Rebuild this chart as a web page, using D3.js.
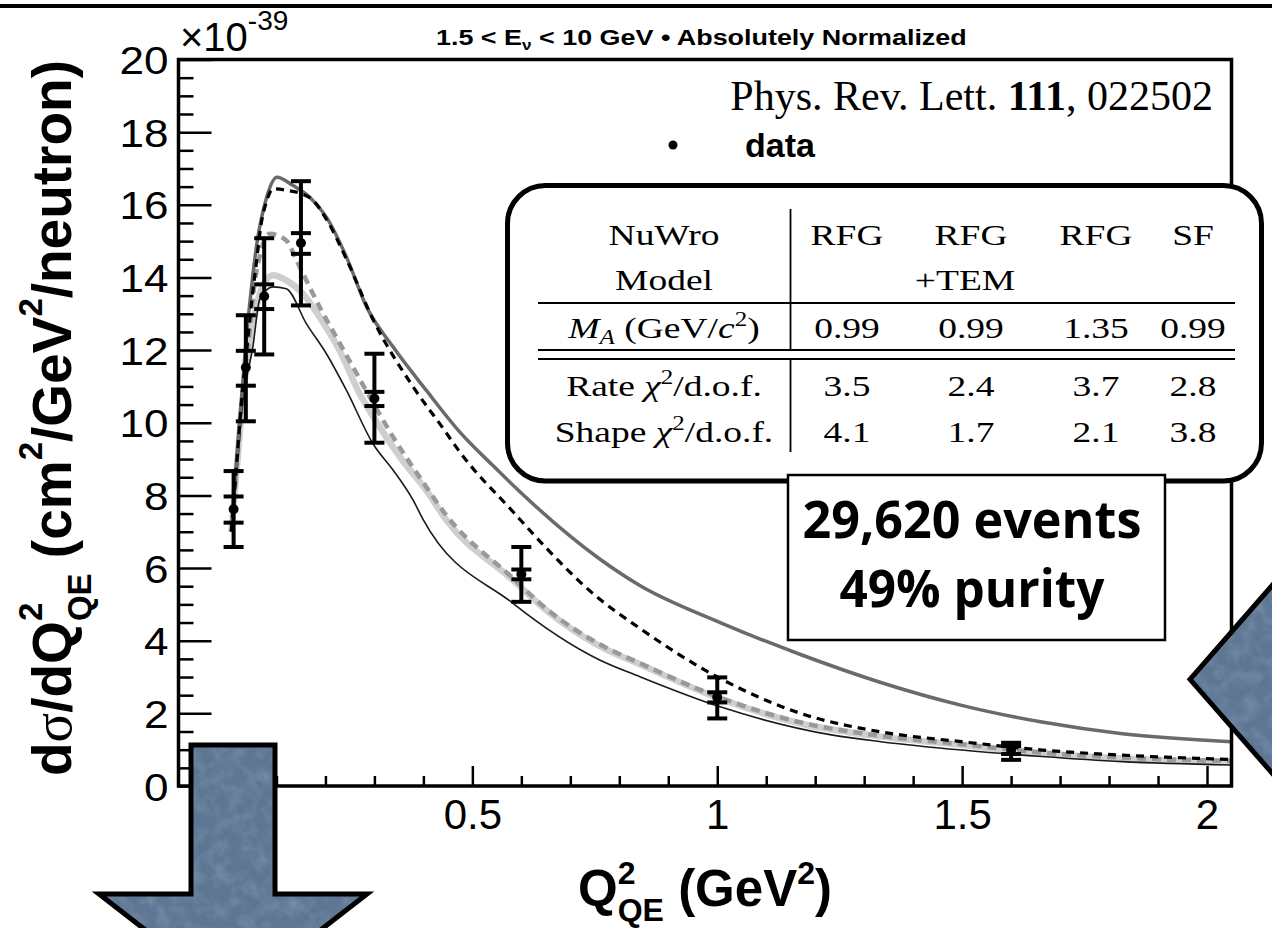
<!DOCTYPE html>
<html>
<head>
<meta charset="utf-8">
<script src="https://cdn.jsdelivr.net/npm/d3@7"></script>
<style>
  html, body { margin: 0; padding: 0; background: #fff; }
  svg { display: block; }
</style>
</head>
<body>
<svg id="chart" width="1272" height="928"></svg>
<script>
// ---- measured cross section (x10^-39 cm^2/GeV^2/neutron) ----
const binCenters = [0.0125, 0.0375, 0.075, 0.15, 0.3, 0.6, 1.0, 1.6];
const dataValues = [7.62, 11.52, 13.48, 14.95, 10.67, 5.83, 2.44, 0.99];
const statLow    = [7.25, 11.02, 13.13, 14.65, 10.46, 5.69, 2.30, 0.88];
const statHigh   = [7.97, 11.98, 13.81, 15.22, 10.85, 5.96, 2.58, 1.10];
const totalLow   = [6.58, 10.04, 11.88, 13.23, 9.45, 5.07, 1.86, 0.72];
const totalHigh  = [8.67, 12.96, 15.08, 16.65, 11.90, 6.58, 2.99, 1.19];

// ---- model predictions, [Q2, value] ----
const modelDarkSolid = [[0.008,7.0],[0.02,9.2],[0.03,10.9],[0.037,12.1],[0.048,13.6],[0.059,14.84],[0.08,16.21],[0.101,16.76],[0.134,16.53],[0.168,16.21],[0.202,15.66],[0.243,14.56],[0.284,13.19],[0.338,12.09],[0.406,10.89],[0.474,9.75],[0.542,8.82],[0.597,8.1],[0.76,6.25],[0.842,5.52],[1.006,4.5],[1.17,3.62],[1.334,2.85],[1.499,2.22],[1.663,1.76],[1.827,1.44],[2.05,1.22]];
const modelBlackDashed = [[0.008,7.0],[0.02,9.1],[0.03,10.8],[0.04,12.1],[0.05,13.4],[0.059,14.4],[0.068,15.4],[0.08,16.1],[0.093,16.44],[0.12,16.4],[0.168,16.2],[0.202,15.6],[0.243,14.5],[0.298,12.82],[0.379,10.99],[0.44,9.85],[0.474,9.2],[0.583,7.55],[0.651,6.55],[0.746,5.3],[0.842,4.34],[1.006,2.96],[1.17,2.0],[1.334,1.49],[1.499,1.22],[1.663,0.99],[1.827,0.85],[2.05,0.73]];
const modelGreyDashed = [[0.008,7.0],[0.02,9.0],[0.03,10.7],[0.042,12.1],[0.055,13.8],[0.066,14.6],[0.086,15.2],[0.12,15.02],[0.141,14.47],[0.161,13.92],[0.188,13.19],[0.222,12.36],[0.256,11.54],[0.298,10.53],[0.338,9.61],[0.392,8.51],[0.447,7.45],[0.583,5.72],[0.651,4.88],[0.76,3.9],[0.842,3.38],[1.006,2.43],[1.17,1.75],[1.334,1.38],[1.499,1.15],[1.663,0.92],[1.827,0.78],[2.05,0.69]];
const modelLightSolid = [[0.008,7.0],[0.02,8.9],[0.03,10.5],[0.045,12.1],[0.066,13.55],[0.093,14.06],[0.12,13.92],[0.154,13.55],[0.188,12.91],[0.229,11.99],[0.27,10.80],[0.298,10.16],[0.352,9.06],[0.406,8.14],[0.447,7.32],[0.583,5.67],[0.651,4.84],[0.76,3.85],[0.842,3.35],[1.006,2.4],[1.17,1.72],[1.334,1.36],[1.499,1.13],[1.663,0.90],[1.827,0.76],[2.05,0.67]];
const modelThinSolid = [[0.008,7.0],[0.02,8.8],[0.03,10.4],[0.052,12.1],[0.066,13.4],[0.093,13.74],[0.12,13.69],[0.161,12.73],[0.202,11.90],[0.243,10.89],[0.298,9.4],[0.338,8.7],[0.379,7.87],[0.399,7.35],[0.583,5.03],[0.76,3.47],[0.842,3.01],[1.006,2.18],[1.236,1.40],[1.334,1.22],[1.499,0.99],[1.663,0.81],[1.827,0.67],[2.05,0.58]];

// ---- axis ticks ----
const yMajorTicks = [0, 2, 4, 6, 8, 10, 12, 14, 16, 18, 20];
const xMajorTicks = [0, 0.5, 1, 1.5, 2];
const xTickLabels = ["0", "0.5", "1", "1.5", "2"];

// ---- fit summary table ----
const tableModels   = ["RFG", "RFG", "RFG", "SF"];
const tableModels2  = ["", "+TEM", "", ""];
const tableMA       = ["0.99", "0.99", "1.35", "0.99"];
const tableRateChi2 = ["3.5", "2.4", "3.7", "2.8"];
const tableShapeChi2= ["4.1", "1.7", "2.1", "3.8"];

const SANS = "'Liberation Sans', Arial, Helvetica, sans-serif";
const SERIF = "'Liberation Serif', 'Times New Roman', serif";

const svg = d3.select("#chart");
const frame = { left: 178.5, right: 1231.5, top: 59.5, bottom: 786 };

const x = d3.scaleLinear().domain([-0.1, 2.05]).range([frame.left, frame.right]);
const y = d3.scaleLinear().domain([0, 20]).range([frame.bottom, frame.top]);

// lays out a run of differently styled text pieces; "stack" pieces share the start of the previous one
function richText(parent, parts) {
  const g = parent.append("g");
  let cx = 0, prevStart = 0, prevEnd = 0;
  parts.forEach(p => {
    const start = p.stack ? prevStart : cx;
    const t = g.append("text")
      .attr("x", start).attr("y", p.dy || 0)
      .style("font-family", p.family || SANS)
      .style("font-size", p.size + "px")
      .style("font-weight", p.weight || "normal")
      .style("font-style", p.style || "normal")
      .attr("fill", "#000")
      .text(p.t);
    const w = t.node().getComputedTextLength();
    const end = start + w;
    if (p.stack) { prevEnd = Math.max(prevEnd, end); }
    else { prevEnd = end; }
    prevStart = start;
    cx = prevEnd;
  });
  return { g, width: cx };
}

const defs = svg.append("defs");
defs.append("clipPath").attr("id", "plotClip")
  .append("rect")
  .attr("x", frame.left).attr("y", frame.top)
  .attr("width", frame.right - frame.left).attr("height", frame.bottom - frame.top);

const grain = defs.append("filter").attr("id", "grain")
  .attr("x", 0).attr("y", 0).attr("width", 1).attr("height", 1);
grain.append("feTurbulence").attr("type", "fractalNoise").attr("baseFrequency", 0.07)
  .attr("numOctaves", 3).attr("seed", 7).attr("result", "noise");
grain.append("feColorMatrix").attr("in", "noise").attr("type", "matrix")
  .attr("values", "0 0 0 0 1  0 0 0 0 1  0 0 0 0 1  0.9 0 0 0 -0.35").attr("result", "speck");
grain.append("feComposite").attr("in", "speck").attr("in2", "SourceGraphic").attr("operator", "in");

// ---- axes ----
const yMinor = d3.range(1, 40).filter(i => i % 4 !== 0).map(i => i * 0.5);
svg.append("g").attr("transform", `translate(${frame.left},0)`)
  .call(d3.axisLeft(y).tickValues(yMinor).tickSize(-15).tickFormat(""))
  .call(g => g.select(".domain").remove())
  .call(g => g.selectAll("line").attr("stroke", "#000").attr("stroke-width", 2.5));

svg.append("g").attr("transform", `translate(${frame.left},0)`)
  .call(d3.axisLeft(y).tickValues(yMajorTicks).tickSize(-33).tickPadding(10).tickFormat(d3.format("d")))
  .call(g => g.select(".domain").remove())
  .call(g => g.selectAll("line").attr("stroke", "#000").attr("stroke-width", 2.5))
  .call(g => g.selectAll("text").attr("fill", "#000")
    .style("font-family", SANS).style("font-size", "39px").attr("dy", "0.36em")
    .attr("x", 0).attr("transform", "translate(-10,0) scale(1.13,1)"));

const xMinor = d3.range(1, 21).filter(i => i % 5 !== 0).map(i => i / 10);
svg.append("g").attr("transform", `translate(0,${frame.bottom})`)
  .call(d3.axisBottom(x).tickValues(xMinor).tickSize(-10).tickFormat(""))
  .call(g => g.select(".domain").remove())
  .call(g => g.selectAll("line").attr("stroke", "#000").attr("stroke-width", 2.5));

svg.append("g").attr("transform", `translate(0,${frame.bottom})`)
  .call(d3.axisBottom(x).tickValues(xMajorTicks).tickSize(-20).tickPadding(13)
    .tickFormat((d, i) => xTickLabels[i]))
  .call(g => g.select(".domain").remove())
  .call(g => g.selectAll("line").attr("stroke", "#000").attr("stroke-width", 2.5))
  .call(g => g.selectAll("text").attr("fill", "#000")
    .style("font-family", SANS).style("font-size", "42px"));

// ---- model curves ----
const line = d3.line().x(d => x(d[0])).y(d => y(d[1])).curve(d3.curveMonotoneX);
const curves = svg.append("g").attr("clip-path", "url(#plotClip)").attr("fill", "none");
const curveStyles = [
  { data: modelLightSolid,  stroke: "#cfcfcf", width: 6.5, dash: null },
  { data: modelGreyDashed,  stroke: "#999999", width: 4.5, dash: "9,6" },
  { data: modelThinSolid,   stroke: "#1a1a1a", width: 1.6, dash: null },
  { data: modelDarkSolid,   stroke: "#6a6a6a", width: 3.5, dash: null },
  { data: modelBlackDashed, stroke: "#000",    width: 3.2, dash: "8,6" }
];
curveStyles.forEach(c => {
  curves.append("path").attr("d", line(c.data))
    .attr("stroke", c.stroke).attr("stroke-width", c.width)
    .attr("stroke-dasharray", c.dash).attr("stroke-linejoin", "round");
});

// ---- frame ----
svg.append("rect")
  .attr("x", frame.left).attr("y", frame.top)
  .attr("width", frame.right - frame.left).attr("height", frame.bottom - frame.top)
  .attr("fill", "none").attr("stroke", "#000").attr("stroke-width", 3.5);

// ---- data points with inner (statistical) and outer (total) error bars ----
const pts = svg.append("g");
binCenters.forEach((q, i) => {
  const cx = x(q);
  pts.append("line").attr("x1", cx).attr("x2", cx)
    .attr("y1", y(totalLow[i])).attr("y2", y(totalHigh[i]))
    .attr("stroke", "#000").attr("stroke-width", 4);
  [totalLow[i], totalHigh[i], statLow[i], statHigh[i]].forEach(v => {
    pts.append("line").attr("x1", cx - 10).attr("x2", cx + 10)
      .attr("y1", y(v)).attr("y2", y(v))
      .attr("stroke", "#000").attr("stroke-width", 4);
  });
  pts.append("circle").attr("cx", cx).attr("cy", y(dataValues[i])).attr("r", 5).attr("fill", "#000");
});

// ---- axis exponent ----
const expo = richText(svg, [
  { t: "\u00d710", size: 40 },
  { t: "-39", size: 28, dy: -21 }
]);
expo.g.attr("transform", "translate(180,51)");

// ---- titles ----
const title = richText(svg, [
  { t: "1.5 < E", size: 22, weight: "bold" },
  { t: "\u03bd", size: 14, weight: "bold", dy: 5 },
  { t: " < 10 GeV \u2022 Absolutely Normalized", size: 22, weight: "bold" }
]);
title.g.selectAll("text").style("white-space", "pre");
{
  const w = title.g.node().getBBox().width;
  title.g.attr("transform", `translate(436,45) scale(${531 / w},1)`);
}

const xTitle = richText(svg, [
  { t: "Q", size: 51, weight: "bold" },
  { t: "2", size: 32, weight: "bold", dy: -22 },
  { t: "QE", size: 32, weight: "bold", dy: 15, stack: true },
  { t: "\u00a0(GeV", size: 51, weight: "bold" },
  { t: "2", size: 32, weight: "bold", dy: -22 },
  { t: ")", size: 51, weight: "bold" }
]);
xTitle.g.attr("transform", `translate(${(frame.left + frame.right) / 2 - xTitle.width / 2},906)`);

const yTitle = richText(svg, [
  { t: "d", size: 55, weight: "bold" },
  { t: "\u03c3", size: 55, family: SERIF },
  { t: "/dQ", size: 55, weight: "bold" },
  { t: "2", size: 33, weight: "bold", dy: -29 },
  { t: "QE", size: 33, weight: "bold", dy: 20, stack: true },
  { t: "\u00a0(cm", size: 55, weight: "bold" },
  { t: "2", size: 33, weight: "bold", dy: -29 },
  { t: "/GeV", size: 55, weight: "bold" },
  { t: "2", size: 33, weight: "bold", dy: -29 },
  { t: "/neutron)", size: 55, weight: "bold" }
]);
yTitle.g.attr("transform", `translate(71,418) rotate(-90) translate(${-yTitle.width / 2},0)`);

// ---- reference and legend ----
const ref = richText(svg, [
  { t: "Phys.\u00a0Rev.\u00a0Lett.\u00a0", size: 42, family: SERIF },
  { t: "111", size: 42, family: SERIF, weight: "bold" },
  { t: ",\u00a0022502", size: 42, family: SERIF }
]);
ref.g.attr("transform", `translate(${1213 - ref.width},110)`);

svg.append("circle").attr("cx", 673).attr("cy", 145).attr("r", 4.5).attr("fill", "#000");
svg.append("text").attr("x", 745).attr("y", 157)
  .style("font-family", SANS).style("font-size", "34px").style("font-weight", "bold")
  .text("data");

// ---- fit summary table ----
const tbl = svg.append("g");
tbl.append("rect").attr("x", 507.5).attr("y", 185.5).attr("width", 754).attr("height", 295.5)
  .attr("rx", 38).attr("fill", "#fff").attr("stroke", "#000").attr("stroke-width", 5);

const colX = [847, 971, 1096, 1193];
const labelX = 664;
const rowY = [245, 290, 338, 396, 442];
const TS = 30;
const TW = 1.25; // table type is set wide

function cellText(xc, yb, txt) {
  tbl.append("text").attr("x", 0).attr("y", 0).attr("text-anchor", "middle")
    .attr("transform", `translate(${xc},${yb}) scale(${TW},1)`)
    .style("font-family", SERIF).style("font-size", TS + "px").text(txt);
}
function centeredRich(xc, yb, parts) {
  const r = richText(tbl, parts);
  r.g.attr("transform", `translate(${xc - r.width * TW / 2},${yb}) scale(${TW},1)`);
}

cellText(labelX, rowY[0], "NuWro");
cellText(labelX, rowY[1], "Model");
tableModels.forEach((m, i) => cellText(colX[i], rowY[0], m));
tableModels2.forEach((m, i) => { if (m) cellText(colX[i] - 6, rowY[1], m); });
centeredRich(labelX, rowY[2], [
  { t: "M", size: TS, family: SERIF, style: "italic" },
  { t: "A", size: 20, family: SERIF, style: "italic", dy: 6 },
  { t: "\u00a0(GeV/", size: TS, family: SERIF },
  { t: "c", size: TS, family: SERIF, style: "italic" },
  { t: "2", size: 20, family: SERIF, dy: -12 },
  { t: ")", size: TS, family: SERIF }
]);
tableMA.forEach((m, i) => cellText(colX[i], rowY[2], m));
centeredRich(labelX, rowY[3], [
  { t: "Rate\u00a0", size: TS, family: SERIF },
  { t: "\u03c7", size: TS, family: SERIF, style: "italic" },
  { t: "2", size: 20, family: SERIF, dy: -12 },
  { t: "/d.o.f.", size: TS, family: SERIF }
]);
tableRateChi2.forEach((m, i) => cellText(colX[i], rowY[3], m));
centeredRich(labelX, rowY[4], [
  { t: "Shape\u00a0", size: TS, family: SERIF },
  { t: "\u03c7", size: TS, family: SERIF, style: "italic" },
  { t: "2", size: 20, family: SERIF, dy: -12 },
  { t: "/d.o.f.", size: TS, family: SERIF }
]);
tableShapeChi2.forEach((m, i) => cellText(colX[i], rowY[4], m));

const rule = (x1, x2, yy) => tbl.append("line").attr("x1", x1).attr("x2", x2)
  .attr("y1", yy).attr("y2", yy).attr("stroke", "#000").attr("stroke-width", 2);
rule(538, 1235, 303);
rule(538, 1235, 350);
rule(538, 1235, 359);
tbl.append("line").attr("x1", 790.5).attr("x2", 790.5).attr("y1", 209).attr("y2", 350)
  .attr("stroke", "#000").attr("stroke-width", 1.8);
tbl.append("line").attr("x1", 790.5).attr("x2", 790.5).attr("y1", 359).attr("y2", 452)
  .attr("stroke", "#000").attr("stroke-width", 1.8);

// ---- event count box ----
svg.append("rect").attr("x", 788).attr("y", 475).attr("width", 377).attr("height", 165)
  .attr("fill", "#fff").attr("stroke", "#000").attr("stroke-width", 2.5);
[["29,620 events", 538, 339], ["49% purity", 607, 265]].forEach(([txt, yb, wTarget]) => {
  const t = svg.append("text").attr("x", 0).attr("y", 0)
    .style("font-family", "'Open Sans', sans-serif").style("font-weight", "bold")
    .style("font-size", "52px").text(txt);
  const w = t.node().getComputedTextLength();
  t.attr("transform", `translate(${972 - wTarget / 2},${yb}) scale(${wTarget / w},1)`);
});

// ---- arrows ----
const arrowFill = "#5c7694";
const downArrow = "M191,745 L275,745 L275,894 L367,894 L233,998 L99,894 L191,894 Z";
const leftArrow = "M1190,679.3 L1300,553.6 L1300,805 Z";
[downArrow, leftArrow].forEach(d => {
  svg.append("path").attr("d", d).attr("fill", arrowFill);
  svg.append("path").attr("d", d).attr("fill", arrowFill).attr("filter", "url(#grain)").attr("opacity", 0.35);
  svg.append("path").attr("d", d).attr("fill", "none").attr("stroke", "#000")
    .attr("stroke-width", 5).attr("stroke-linejoin", "miter");
});

// ---- page rule at the top ----
svg.append("rect").attr("x", 0).attr("y", 4).attr("width", 1272).attr("height", 4).attr("fill", "#000");
</script>
</body>
</html>
